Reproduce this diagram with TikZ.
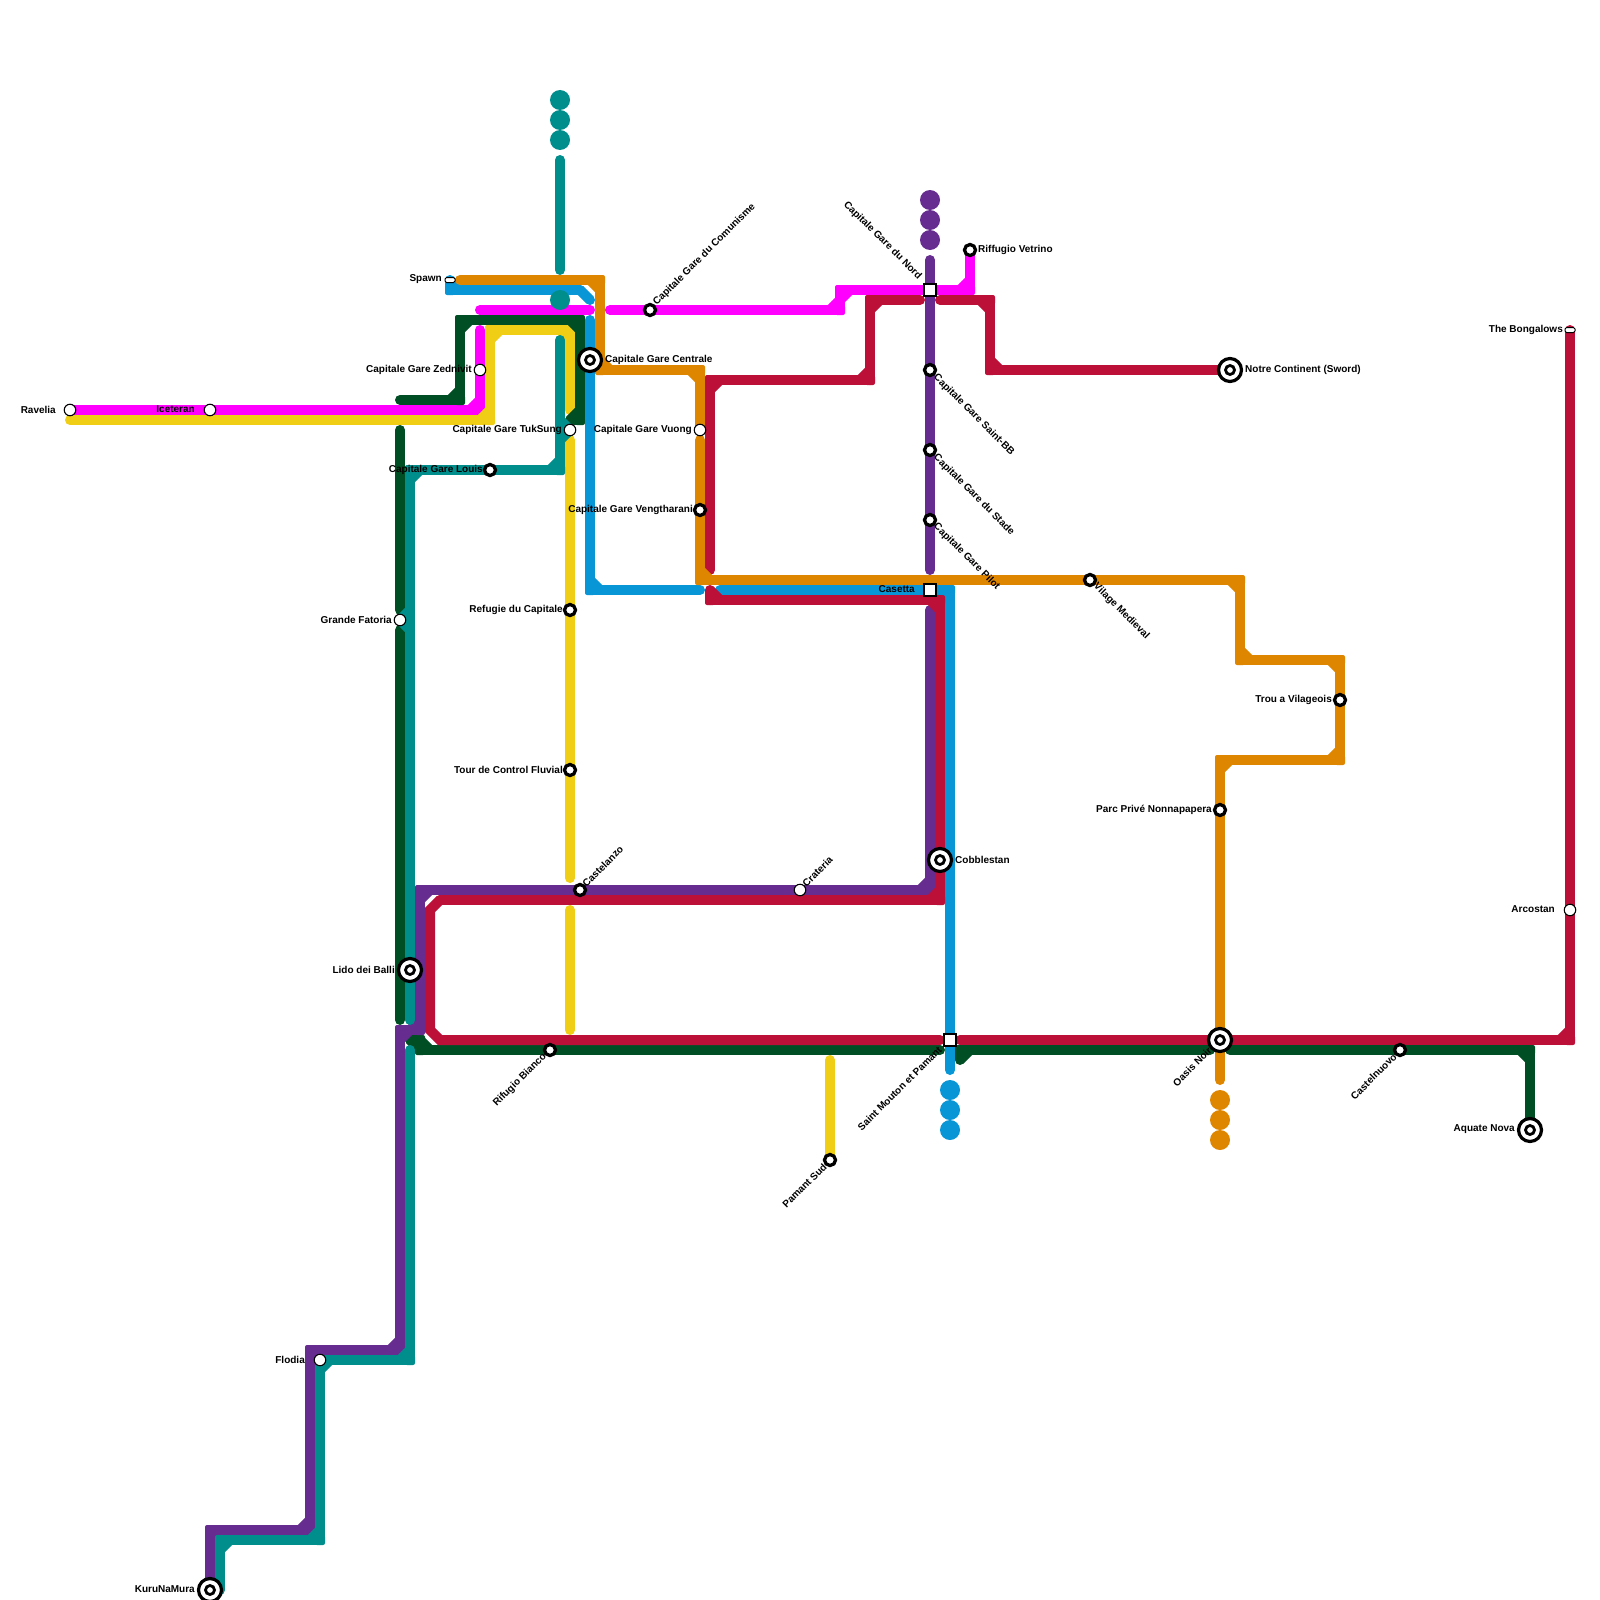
\documentclass[tikz,border=0pt]{standalone}
\usepackage{fontspec}
\setmainfont{Liberation Sans}
\usetikzlibrary{calc}
\definecolor{cmag}{HTML}{FF00FF}
\definecolor{cyel}{HTML}{F0CE15}
\definecolor{cgrn}{HTML}{004F24}
\definecolor{cpur}{HTML}{662C90}
\definecolor{ctea}{HTML}{008E8C}
\definecolor{cblu}{HTML}{0896D7}
\definecolor{cred}{HTML}{BD1038}
\definecolor{cora}{HTML}{DF8600}
\tikzset{
  metro/.style={line width=10pt,line cap=round,line join=round},
  dotm/.style={circle,fill=#1,inner sep=0pt,minimum size=20pt},
  smallst/.style={circle,draw=black,fill=white,line width=3.3pt,inner sep=0pt,minimum size=11pt},
  whitest/.style={circle,draw=black,fill=white,line width=1.1pt,inner sep=0pt,minimum size=11.5pt},
  bigst/.style={circle,draw=black,fill=white,line width=3.2pt,inner sep=0pt,minimum size=23pt,
     path picture={\draw[black,line width=2.8pt] (path picture bounding box.center) circle (4.5pt);}},
  squarest/.style={rectangle,draw=black,fill=white,line width=2pt,inner sep=0pt,minimum size=12pt},
  pillst/.style={rectangle,rounded corners=1.5pt,draw=black,fill=white,line width=1pt,inner sep=0pt,minimum width=10pt,minimum height=5pt},
  lbl/.style={font=\fontsize{10}{12}\selectfont\bfseries,inner sep=0pt,text=black},
}
% orthogonal line with an inner chamfer and a small outer rounding at each bend
\newcommand\mline[2]{%
  \gdef\pax{}\gdef\pay{}\gdef\pbx{}\gdef\pby{}%
  \foreach \x/\y in {#2}{%
    \ifx\pbx\empty\else
      \draw[metro,#1] (\pbx,\pby) -- (\x,\y);
      \ifx\pax\empty\else
        \draw[metro,#1,line cap=butt] ($(\pbx,\pby)!10pt!(\pax,\pay)$) -- ($(\pbx,\pby)!10pt!(\x,\y)$);
        \fill[#1,rounded corners=2pt] ($(\pbx,\pby)+(-5,-5)$) rectangle ($(\pbx,\pby)+(5,5)$);
      \fi
    \fi
    \global\let\pax\pbx \global\let\pay\pby
    \xdef\pbx{\x}\xdef\pby{\y}%
  }}
% station: name, x, y, style, dx, dy, anchor, rotation, text
\newcommand\stn[9]{%
  \node[#4] (#1) at (#2,#3) {};
  \node[lbl,anchor=#7,rotate=#8] (#1-l) at ($(#1)+(#5,#6)$) {#9};}
\begin{document}
\begin{tikzpicture}[x=1pt,y=-1pt]
\useasboundingbox (0,0) rectangle (1600,1600);
\fill[white] (0,0) rectangle (1600,1600);
% magenta
\mline{cmag}{70/410,480/410,480/330}
\draw[metro,cmag] (480,310) -- (590,310);
\mline{cmag}{610/310,840/310,840/290,970/290,970/250}
% yellow
\mline{cyel}{70/420,490/420,490/330,570/330,570/410}
\draw[metro,cyel] (570,440) -- (570,878);
\draw[metro,cyel] (570,910) -- (570,1030);
\draw[metro,cyel] (830,1060) -- (830,1160);
% dark green
\mline{cgrn}{400/400,460/400,460/320,580/320,580/420,570/420}
\draw[metro,cgrn] (400,430) -- (400,610);
\draw[metro,cgrn] (400,630) -- (400,1020);
\mline{cgrn}{410/1040,420/1040,420/1050,940/1050}
\mline{cgrn}{960/1060,960/1050,1210/1050}
\mline{cgrn}{1230/1050,1530/1050,1530/1130}
% purple
\draw[metro,cpur] (930,260) -- (930,570);
\mline{cpur}{930/610,930/890,420/890,420/1030,400/1030,400/1350,310/1350,310/1530,210/1530,210/1590}
% teal
\draw[metro,ctea] (560,160) -- (560,270);
\draw[metro,ctea] (560,340) -- (560,440);
\draw[metro,ctea] (560,420) -- (570,430) -- (560,440);
\mline{ctea}{560/440,560/470,410/470,410/1020}
\draw[metro,ctea] (410,610) -- (400,620) -- (410,630);
\mline{ctea}{410/1050,410/1360,320/1360,320/1540,220/1540,220/1590}
% blue
\mline{cblu}{450/280,450/290,580/290}
\draw[metro,cblu] (580,290) -- (590,300);
\mline{cblu}{590/320,590/590,700/590}
\mline{cblu}{720/590,950/590,950/1070}
% crimson
\mline{cred}{920/300,870/300,870/380,710/380,710/570}
\mline{cred}{940/300,990/300,990/370,1230/370}
\mline{cred}{710/590,710/600,940/600,940/900,440/900}
\draw[metro,cred,line join=miter] (440,900) -- (430,910) -- (430,1030) -- (440,1040) -- (940,1040);
\mline{cred}{960/1040,1570/1040,1570/330}
% orange
\mline{cora}{460/280,600/280,600/370,700/370,700/430}
\mline{cora}{700/440,700/580,1240/580,1240/660,1340/660,1340/760,1220/760,1220/1080}
% terminus dots
\foreach \y in {100,120,140,300} \node[dotm=ctea] (dt\y) at (560,\y) {};
\foreach \y in {200,220,240} \node[dotm=cpur] (dp\y) at (930,\y) {};
\foreach \y in {1090,1110,1130} \node[dotm=cblu] (db\y) at (950,\y) {};
\foreach \y in {1100,1120,1140} \node[dotm=cora] (do\y) at (1220,\y) {};
% stations
\stn{ravelia}{70}{410}{whitest}{-14}{-0.5}{east}{0}{Ravelia}
\stn{iceteran}{210}{410}{whitest}{-15}{-0.5}{east}{0}{Iceteran}
\stn{spawn}{450}{280}{pillst}{-8}{-0.5}{east}{0}{Spawn}
\stn{zednivit}{480}{370}{whitest}{-8}{-0.5}{east}{0}{Capitale Gare Zednivit}
\stn{tuksung}{570}{430}{whitest}{-8}{-0.5}{east}{0}{Capitale Gare TukSung}
\stn{louis}{490}{470}{smallst}{-7}{-0.5}{east}{0}{Capitale Gare Louis}
\stn{centrale}{590}{360}{bigst}{15}{-0.5}{west}{0}{Capitale Gare Centrale}
\stn{comunisme}{650}{310}{smallst}{5}{-6}{west}{45}{Capitale Gare du Comunisme}
\stn{vuong}{700}{430}{whitest}{-8}{-0.5}{east}{0}{Capitale Gare Vuong}
\stn{vengtharani}{700}{510}{smallst}{-7}{-0.5}{east}{0}{Capitale Gare Vengtharani}
\stn{nord}{930}{290}{squarest}{-10}{-12}{east}{-45}{Capitale Gare du Nord}
\stn{vetrino}{970}{250}{smallst}{8}{-0.5}{west}{0}{Riffugio Vetrino}
\stn{saintbb}{930}{370}{smallst}{5}{6}{west}{-45}{Capitale Gare Saint-BB}
\stn{stade}{930}{450}{smallst}{5}{6}{west}{-45}{Capitale Gare du Stade}
\stn{pilot}{930}{520}{smallst}{5}{5}{west}{-45}{Capitale Gare Pilot}
\stn{casetta}{930}{590}{squarest}{-15}{-0.5}{east}{0}{Casetta}
\stn{notre}{1230}{370}{bigst}{15}{-0.5}{west}{0}{Notre Continent (Sword)}
\stn{village}{1090}{580}{smallst}{5}{5}{west}{-45}{Vilage Medieval}
\stn{refugie}{570}{610}{smallst}{-7}{-0.5}{east}{0}{Refugie du Capitale}
\stn{fluvial}{570}{770}{smallst}{-7}{-0.5}{east}{0}{Tour de Control Fluvial}
\stn{castelanzo}{580}{890}{smallst}{4}{-5}{west}{45}{Castelanzo}
\stn{crateria}{800}{890}{whitest}{4}{-5}{west}{45}{Crateria}
\stn{cobble}{940}{860}{bigst}{15}{-0.5}{west}{0}{Cobblestan}
\stn{fatoria}{400}{620}{whitest}{-8}{-0.5}{east}{0}{Grande Fatoria}
\stn{lido}{410}{970}{bigst}{-15}{-0.5}{east}{0}{Lido dei Balli}
\stn{bianco}{550}{1050}{smallst}{-5}{5}{east}{45}{Rifugio Bianco}
\stn{pamantsud}{830}{1160}{smallst}{-5}{5}{east}{45}{Pamant Sud}
\stn{mouton}{950}{1040}{squarest}{-10}{8}{east}{45}{Saint Mouton et Pamant}
\stn{flodia}{320}{1360}{whitest}{-15}{-0.5}{east}{0}{Flodia}
\stn{kuru}{210}{1590}{bigst}{-15}{-0.5}{east}{0}{KuruNaMura}
\stn{trou}{1340}{700}{smallst}{-8}{-0.5}{east}{0}{Trou a Vilageois}
\stn{parc}{1220}{810}{smallst}{-8}{-0.5}{east}{0}{Parc Privé Nonnapapera}
\stn{oasis}{1220}{1040}{bigst}{-10}{9}{east}{45}{Oasis Noir}
\stn{castelnuovo}{1400}{1050}{smallst}{-5}{5}{east}{45}{Castelnuovo}
\stn{aquate}{1530}{1130}{bigst}{-15}{-0.5}{east}{0}{Aquate Nova}
\stn{arcostan}{1570}{910}{whitest}{-15}{-0.5}{east}{0}{Arcostan}
\stn{bongalows}{1570}{330}{pillst}{-7}{-0.5}{east}{0}{The Bongalows}
\end{tikzpicture}
\end{document}
